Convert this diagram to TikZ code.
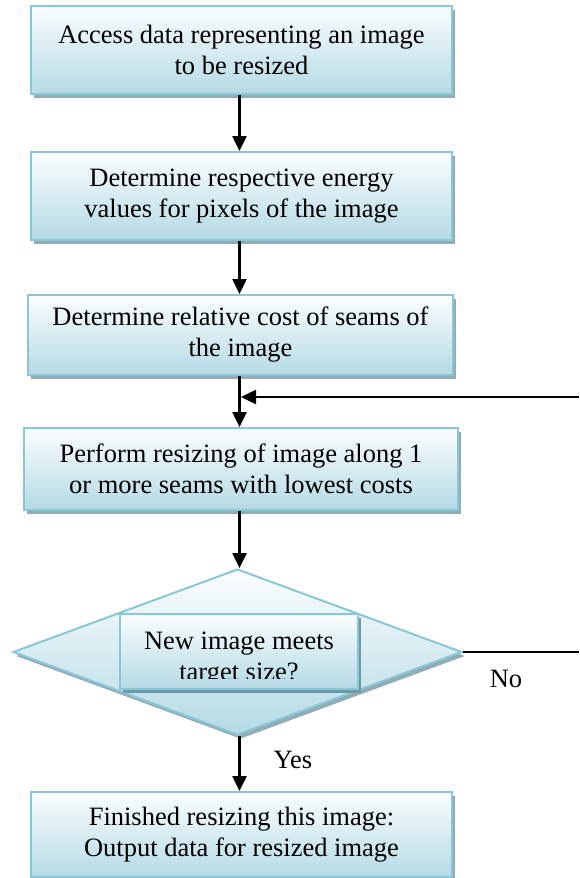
\documentclass[tikz,border=0pt]{standalone}
\usepackage{fontspec}
\setmainfont{Liberation Serif}
\usetikzlibrary{shapes.geometric,shadows,arrows.meta}
\definecolor{bordc}{RGB}{137,199,215}
\definecolor{topc}{RGB}{251,253,254}
\definecolor{botc}{RGB}{180,218,229}
\definecolor{shadc}{RGB}{146,171,180}
\definecolor{shadd}{RGB}{112,153,167}
\newcommand\figfont{\fontsize{26.5pt}{31pt}\selectfont}
\tikzset{
  procbox/.style={rectangle, draw=bordc, line width=2pt, top color=topc, bottom color=botc,
    drop shadow={shadow xshift=3pt, shadow yshift=-4pt, fill=shadc, opacity=1},
    align=center, inner sep=0pt, font=\figfont},
  decbox/.style={diamond, draw=bordc, line width=2pt, top color=topc, bottom color=botc,
    drop shadow={shadow xshift=3pt, shadow yshift=-4pt, fill=shadc, opacity=1},
    inner sep=0pt},
  innerbox/.style={rectangle, draw=bordc, line width=2pt, top color=topc, bottom color=botc,
    drop shadow={shadow xshift=3pt, shadow yshift=-4pt, fill=shadd, opacity=1},
    inner sep=0pt},
  arr/.style={line width=2.5pt, -{Triangle[length=15pt,width=14pt]}},
  plain/.style={line width=1.3pt},
  lbl/.style={font=\figfont, inner sep=0pt}
}
\begin{document}
\begin{tikzpicture}[x=1pt,y=-1pt]
\path[use as bounding box, clip] (0,0) rectangle (579,878);
\node[procbox, minimum width=421pt, minimum height=88pt] (b1) at (241.5,50)
  {Access data representing an image\\to be resized};
\node[procbox, minimum width=421pt, minimum height=88pt] (b2) at (241.5,196)
  {Determine respective energy\\values for pixels of the image};
\node[procbox, minimum width=425pt, minimum height=80pt] (b3) at (240.5,335)
  {Determine relative cost of seams of\\the image};
\node[procbox, minimum width=434pt, minimum height=82pt] (b4) at (241,469)
  {Perform resizing of image along 1\\or more seams with lowest costs};
\node[decbox, minimum width=449pt, minimum height=166pt] (d) at (237.5,652) {};
\node[innerbox, minimum width=238pt, minimum height=75pt] (q) at (239,651.5) {};
\begin{scope}
  \clip (120,600) rectangle (358,678.5);
  \node[lbl, align=center, anchor=base] (qt) at (239,680) {New image meets\\target size?};
\end{scope}
\node[procbox, minimum width=421pt, minimum height=85pt] (b5) at (241.5,834.5)
  {Finished resizing this image:\\Output data for resized image};
\coordinate (ax) at (239.5,0);
\coordinate (fbR) at (579,397);
\coordinate (fbJ) at (241,397);
\coordinate (noR) at (579,652);
\draw[arr] (ax |- b1.south) -- (ax |- b2.north);
\draw[arr] (ax |- b2.south) -- (ax |- b3.north);
\draw[arr] (ax |- b3.south) -- (ax |- b4.north);
\draw[arr] (fbR) -- (fbJ);
\draw[arr] (ax |- b4.south) -- (ax |- d.north);
\draw[arr] (ax |- d.south) -- (ax |- b5.north);
\draw[plain] (d.east) -- (noR);
\node[lbl] (no) at (506,679) {No};
\node[lbl] (yes) at (293,760) {Yes};
\end{tikzpicture}
\end{document}
